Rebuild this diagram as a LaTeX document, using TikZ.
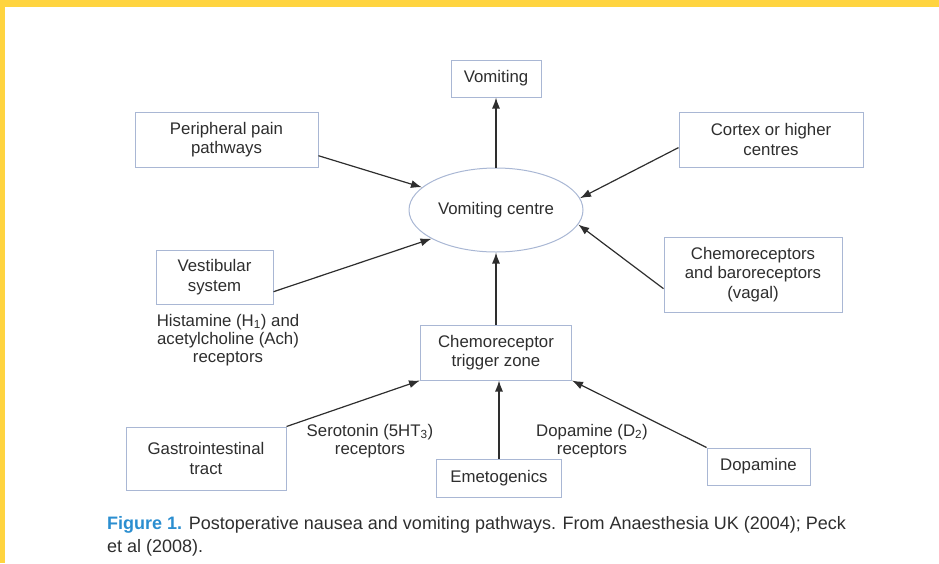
\documentclass[tikz,border=0pt]{standalone}
\usepackage{fontspec}
\setmainfont{Liberation Sans}
\usetikzlibrary{positioning,shapes.geometric,arrows.meta}
\usepackage{xcolor}
\definecolor{boxline}{HTML}{A9B7D4}
\definecolor{inkgrey}{HTML}{2E2E2E}
\definecolor{figblue}{HTML}{2B8ED0}
\definecolor{pageband}{HTML}{FFD43F}
\tikzset{
  pathbox/.style={draw=boxline,line width=1pt,fill=white,align=center,inner sep=0pt,
                  text=inkgrey,font=\fontsize{16.8}{19.5}\selectfont},
  pathnote/.style={align=center,inner sep=0pt,text=inkgrey,font=\fontsize{16.8}{18}\selectfont},
  feed/.style={draw=inkgrey,line width=1.2pt,-{Latex[length=11pt,width=8pt]}},
}

\begin{document}
\begin{tikzpicture}[x=1pt,y=-1pt]
  \useasboundingbox (0,0) rectangle (939,563);
  \fill[pageband] (0,0) rectangle (939,7);
  \fill[pageband] (0,0) rectangle (5,563);

  \node[pathbox,minimum width=90,minimum height=37] (vom) at (496,78.5) {Vomiting};
  \node[pathbox,minimum width=183,minimum height=55] (ppp) at (226.5,139.5) {Peripheral pain\\pathways};
  \node[pathbox,minimum width=184,minimum height=55] (cortex) at (771,139.5) {Cortex or higher\\centres};
  \node[pathbox,ellipse,minimum width=174,minimum height=84] (vc) at (496,210) {Vomiting centre};
  \node[pathbox,minimum width=117,minimum height=54] (vest) at (214.5,277) {Vestibular\\system};
  \node[pathnote] (histrec) at (228,340) {Histamine (H\textsubscript{1}) and\\acetylcholine (Ach)\\receptors};
  \node[pathbox,minimum width=178,minimum height=75] (chembaro) at (753,274.5) {Chemoreceptors\\and baroreceptors\\(vagal)};
  \node[pathbox,minimum width=151,minimum height=55] (ctz) at (496,352.5) {Chemoreceptor\\trigger zone};
  \node[pathbox,minimum width=160,minimum height=63] (gitract) at (206,458.5) {Gastrointestinal\\tract};
  \node[pathnote] (serorec) at (370,441) {Serotonin (5HT\textsubscript{3})\\receptors};
  \node[pathbox,minimum width=125,minimum height=38] (emeto) at (499,478) {Emetogenics};
  \node[pathnote] (doparec) at (592,441) {Dopamine (D\textsubscript{2})\\receptors};
  \node[pathbox,minimum width=103,minimum height=37] (dopa) at (758.5,466.5) {Dopamine};

  \node[anchor=north west,align=left,inner sep=0pt,text=inkgrey,
        font=\fontsize{18}{23}\selectfont] (caption) at (107,516)
        {\textcolor{figblue}{\bfseries Figure 1.} Postoperative nausea and vomiting pathways. From Anaesthesia UK (2004); Peck\\et al (2008).};

  \draw[feed] (vc.north) -- (vom.south);
  \foreach \src/\dst in {ppp.-10/vc.163, cortex.185/vc.8, vest.-14/vc.204, chembaro.189/vc.-10}
    \draw[feed] (\src) -- (\dst);
  \draw[feed] (ctz.north) -- (vc.south);
  \draw[feed] (gitract.north east) -- (ctz.south west);
  \draw[feed] (emeto.north) -- (emeto.north |- ctz.south);
  \draw[feed] (dopa.north west) -- (ctz.south east);
\end{tikzpicture}
\end{document}
